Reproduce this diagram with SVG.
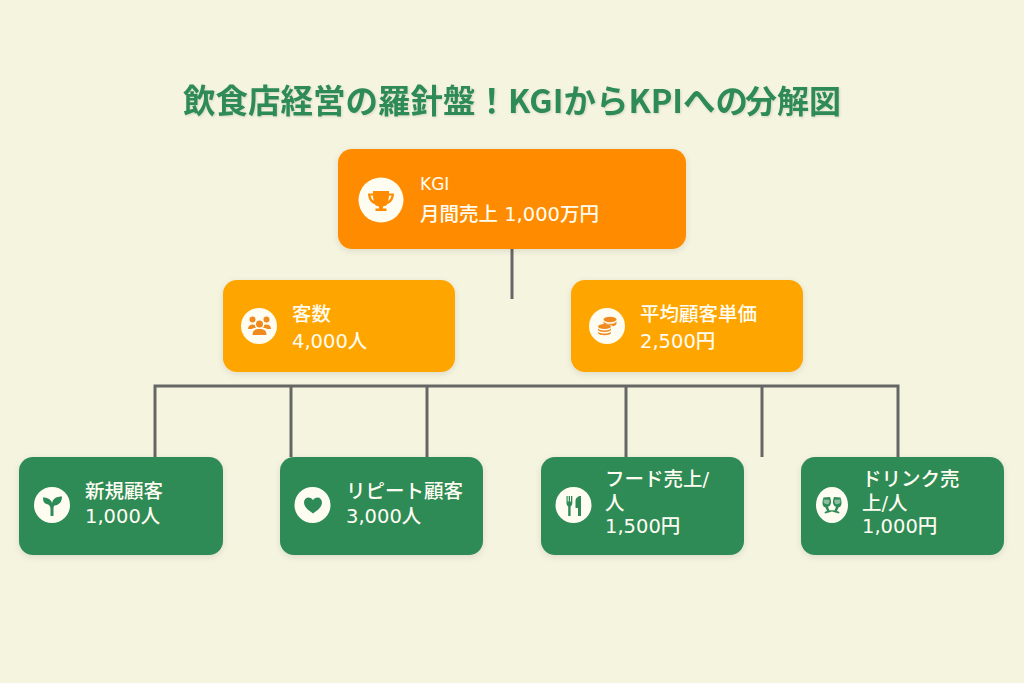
<svg xmlns="http://www.w3.org/2000/svg" width="1024" height="683" viewBox="0 0 1024 683">
<defs>
<filter id="sh" x="-10%" y="-15%" width="120%" height="135%"><feDropShadow dx="0" dy="2" stdDeviation="3" flood-color="#000" flood-opacity="0.1"/></filter>
<filter id="tsh" x="-2%" y="-20%" width="104%" height="150%"><feDropShadow dx="1" dy="1" stdDeviation="1" flood-color="#000" flood-opacity="0.12"/></filter>
</defs>
<style>
text{font-family:"DejaVu Sans","Noto Sans CJK JP",sans-serif;fill:#FFFDF2;font-size:19.5px;font-weight:500}
.title{fill:#2E8B57;font-size:32.5px;font-weight:700;font-family:"Noto Sans CJK JP","Noto Sans",sans-serif}
.k{font-size:17px;font-weight:400}
.box{filter:url(#sh)}
.a{fill:#FF8C00}.b{fill:#FFA500}.c{fill:#2E8B57}
.ci{fill:#FFFDF2}
.line{stroke:#666;stroke-width:3;fill:none}
</style>
<rect width="1024" height="683" fill="#F4F4DF"/>
<text class="title" x="183" y="113" filter="url(#tsh)">飲食店経営の羅針盤！KGIからKPIへの<tspan x="745" font-size="32">分解図</tspan></text>
<g id="connectors">
<path class="line" d="M512 249V299"/>
<path class="line" d="M155 457V386H898V457M291 386V457M427 386V457M626 386V457M762 386V457"/>
</g>
<g id="node-kgi">
<rect class="box a" x="338" y="149" width="348" height="100" rx="14"/>
<circle class="ci" cx="381" cy="200" r="22.5"/>
<path class="a" d="M373 191H389V193.500H394C394 199 391 203 387.500 204C386.500 205.500 385 206 383 206.500V208.500H386.500V211H375.500V208.500H379V206.500C377 206 375.500 205.500 374.500 204C371 203 368 199 368 193.500H373ZM370.500 195.500C371 198 372 200 373.800 201C373.300 199 373 197 373 195.500ZM391.500 195.500H389C389 197 388.700 199 388.200 201C390 200 391 198 391.500 195.500Z"/>
<text class="k" x="420" y="190">KGI</text>
<text x="420" y="221">月間売上 1,000万円</text>
</g>
<g id="node-customers">
<rect class="box b" x="223" y="280" width="232" height="92" rx="14"/>
<circle class="ci" cx="259" cy="326" r="18"/>
<g fill="#F08A1E"><circle cx="259.500" cy="324" r="3.500"/><circle cx="252.500" cy="319.500" r="3"/><circle cx="266.500" cy="319.500" r="3"/><path d="M252.500 335C252.500 330.500 255 329 259.500 329C264 329 266.500 330.500 266.500 335ZM248 329C248 326 250 324.500 252.500 324.500C253.500 324.500 254.500 324.700 255 325.300C254.800 326.800 255.500 327.500 256 328C254 328 252 328.500 251.500 329ZM271 329C271 326 269 324.500 266.500 324.500C265.500 324.500 264.500 324.700 264 325.300C264.200 326.800 263.500 327.500 263 328C265 328 267 328.500 267.500 329Z"/></g>
<text x="292" y="321">客数</text>
<text x="292" y="348">4,000人</text>
</g>
<g id="node-price">
<rect class="box b" x="571" y="280" width="232" height="92" rx="14"/>
<circle class="ci" cx="607" cy="326" r="18"/>
<g fill="#F08A1E"><ellipse cx="610" cy="319.500" rx="6.500" ry="2.800"/><path d="M603.500 321C604 323 607 323.800 610 323.800C613 323.800 616 323 616.500 321V323.500C616.500 325 614.500 326 613 326.300C612 324.800 608 324 604.500 324.300C604 324 603.500 323.500 603.500 323Z"/><ellipse cx="604.500" cy="326.500" rx="6.500" ry="2.600"/><path d="M598 328C598.500 329.800 601.500 330.500 604.500 330.500C607.500 330.500 610.500 329.800 611 328V329.800C610.500 331.500 607.500 332 604.500 332C601.500 332 598.500 331.500 598 329.800ZM598 331.500C598.500 333 601.500 333.500 604.500 333.500C607.500 333.500 610.500 333 611 331.500V333C610.500 334.700 607.500 335.200 604.500 335.200C601.500 335.200 598.500 334.700 598 333Z"/></g>
<text x="640" y="321">平均顧客単価</text>
<text x="640" y="348">2,500円</text>
</g>
<g id="node-new">
<rect class="box c" x="19" y="457" width="204" height="98" rx="14"/>
<circle class="ci" cx="52" cy="505" r="18"/>
<path class="c" d="M50.500 516V509C50.500 506 49 504.500 46.500 504C44 503.500 43 501 43 497.500C47 497.500 51 499 52 503C53 498.500 56.500 496.500 62 496.500C62 501 60 505 54.500 505.500C53.500 506.500 53.500 507.500 53.500 509V516Z"/>
<text x="85" y="498">新規顧客</text>
<text x="85" y="523">1,000人</text>
</g>
<g id="node-repeat">
<rect class="box c" x="280" y="457" width="203" height="98" rx="14"/>
<circle class="ci" cx="312.500" cy="505" r="18"/>
<path class="c" d="M313 513.500C308 510 304 507 304 502.500C304 499.500 306 497.500 308.500 497.500C310.500 497.500 312 498.500 313 500.300C314 498.500 315.500 497.500 317.500 497.500C320 497.500 322 499.500 322 502.500C322 507 318 510 313 513.500Z"/>
<text x="346" y="498">リピート顧客</text>
<text x="346" y="523">3,000人</text>
</g>
<g id="node-food">
<rect class="box c" x="541" y="457" width="203" height="98" rx="14"/>
<circle class="ci" cx="573.500" cy="505" r="18"/>
<path class="c" d="M566.500 496H567.700V501.500H568.700V496H570V501.500H571V496H572.300V503C572.300 505 571.300 506 570.600 506.500V516H568.200V506.500C567.500 506 566.500 505 566.500 503ZM581 496V516H578V508H575.500V501C575.500 498 578 496 581 496Z"/>
<text x="605" y="486">フード売上/</text>
<text x="605" y="510">人</text>
<text x="605" y="533">1,500円</text>
</g>
<g id="node-drink">
<rect class="box c" x="801" y="457" width="203" height="98" rx="14"/>
<ellipse class="ci" cx="832" cy="505" rx="16" ry="18"/>
<path class="c" d="M823.500 497.500L830 497C831.500 500.500 831.500 504 829.500 506L828 506.800L829.500 510.500L832 510L832.500 511.500L825 513.500L824.500 512L827 511L825.500 507.500C822.500 507 821.500 503 823.500 497.500ZM840.500 497.500L834 497C832.500 500.500 832.500 504 834.500 506L836 506.800L834.500 510.500L832 510L831.500 511.500L839 513.500L839.500 512L837 511L838.500 507.500C841.500 507 842.500 503 840.500 497.500Z"/>
<path class="ci" d="M823.800 499.500L829.500 499.800C829.800 501.500 829.300 503.200 828.400 503.900C826.500 504.500 824 504 823.500 502ZM840.200 499.500L834.500 499.800C834.200 501.500 834.700 503.200 835.600 503.900C837.500 504.500 840 504 840.500 502Z" opacity="0.45"/>
<text x="862" y="486">ドリンク売</text>
<text x="862" y="510">上/人</text>
<text x="862" y="533">1,000円</text>
</g>
</svg>
